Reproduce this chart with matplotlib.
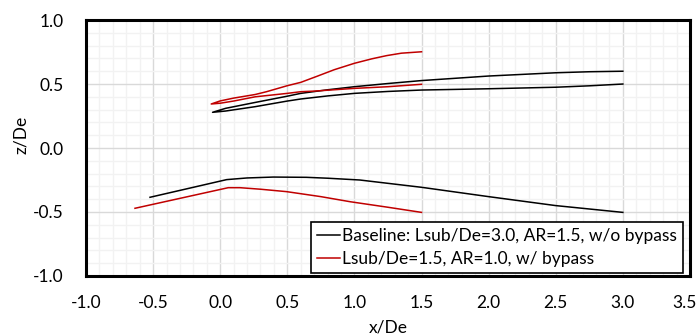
import matplotlib
matplotlib.use("Agg")
import matplotlib.pyplot as plt
from matplotlib.ticker import MultipleLocator
from matplotlib.transforms import ScaledTranslation

# baseline duct: upper wall loop (trailing edge lower -> leading edge -> trailing edge upper)
base_up_x = [3.0, 2.75, 2.5, 2.0, 1.5, 1.25, 1.0, 0.8, 0.6, 0.5, 0.26, 0.04, -0.057,
             0.04, 0.26, 0.5, 0.6, 0.8, 1.0, 1.25, 1.5, 2.0, 2.5, 2.75, 3.0]
base_up_z = [0.50, 0.486, 0.475, 0.463, 0.453, 0.442, 0.427, 0.407, 0.383, 0.367, 0.323, 0.289, 0.279,
             0.310, 0.356, 0.405, 0.427, 0.455, 0.479, 0.504, 0.527, 0.5625, 0.588, 0.596, 0.60]
# baseline duct: lower wall
base_lo_x = [-0.523, 0.048, 0.2, 0.395, 0.643, 0.8, 1.04, 1.5, 2.0, 2.5, 3.0]
base_lo_z = [-0.385, -0.247, -0.234, -0.227, -0.229, -0.236, -0.25, -0.307, -0.38, -0.45, -0.503]

# short duct with bypass
byp_up_x = [1.5, 1.25, 1.0, 0.707, 0.6, 0.5, 0.26, 0.1, 0.0, -0.067,
            0.0, 0.1, 0.26, 0.345, 0.5, 0.6, 0.72, 0.85, 1.0, 1.13, 1.24, 1.35, 1.5]
byp_up_z = [0.498, 0.479, 0.466, 0.445, 0.44, 0.427, 0.40, 0.367, 0.35, 0.344,
            0.368, 0.39, 0.418, 0.44, 0.487, 0.513, 0.56, 0.612, 0.662, 0.697, 0.722, 0.741, 0.752]
byp_lo_x = [-0.635, 0.06, 0.147, 0.3, 0.495, 0.75, 0.97, 1.25, 1.5]
byp_lo_z = [-0.471, -0.31, -0.31, -0.322, -0.341, -0.38, -0.42, -0.463, -0.503]

labels = ["Baseline: Lsub/De=3.0, AR=1.5, w/o bypass",
          "Lsub/De=1.5, AR=1.0, w/ bypass"]


def main():
    plt.rcParams['font.family'] = ['Lato', 'DejaVu Sans']
    fs = 12.5
    fig = plt.figure(figsize=(6.98, 3.34), dpi=100)
    ax = fig.add_axes([0.1232, 0.1737, 0.8653, 0.7663])

    ax.plot(base_up_x, base_up_z, color='black', lw=1.1, label=labels[0])
    ax.plot(base_lo_x, base_lo_z, color='black', lw=1.1)
    ax.plot(byp_up_x, byp_up_z, color='#C00000', lw=1.1, label=labels[1])
    ax.plot(byp_lo_x, byp_lo_z, color='#C00000', lw=1.1)

    ax.set_xlim(-1.0, 3.5)
    ax.set_ylim(-1.0, 1.0)
    ax.xaxis.set_major_locator(MultipleLocator(0.5))
    ax.yaxis.set_major_locator(MultipleLocator(0.5))
    ax.xaxis.set_minor_locator(MultipleLocator(0.1))
    ax.yaxis.set_minor_locator(MultipleLocator(0.1))
    ax.xaxis.set_major_formatter(lambda v, p: f"{v:.1f}")
    ax.yaxis.set_major_formatter(lambda v, p: f"{v:.1f}")
    ax.grid(which='major', color='#d9d9d9', lw=1.0)
    ax.grid(which='minor', color='#f2f2f2', lw=1.0)
    ax.set_axisbelow(True)
    ax.tick_params(which='both', length=0, labelsize=fs)
    ax.tick_params(axis='x', pad=14)
    ax.tick_params(axis='y', pad=16)
    for s in ax.spines.values():
        s.set_linewidth(2.2)
        s.set_color('black')

    # keep the 3.5 label inside the figure
    locs = list(ax.xaxis.get_majorticklocs())
    ticks = ax.xaxis.get_major_ticks(len(locs))
    for loc, tick in zip(locs, ticks):
        if abs(loc - 3.5) < 1e-9:
            lbl = tick.label1
            lbl.set_transform(lbl.get_transform() + ScaledTranslation(-4 / 72, 0, fig.dpi_scale_trans))

    ax.set_xlabel("x/De", fontsize=fs)
    ax.set_ylabel("z/De", fontsize=fs)
    ax.xaxis.set_label_coords(0.5, -0.17)
    ax.yaxis.set_label_coords(-0.095, 0.55)

    leg = ax.legend(loc='lower right', bbox_to_anchor=(0.988, 0.012), fontsize=fs,
                    frameon=True, fancybox=False, handlelength=1.3, handletextpad=0.12,
                    borderpad=0.35, labelspacing=0.4, borderaxespad=0.0)
    leg.get_frame().set_edgecolor('black')
    leg.get_frame().set_linewidth(1.2)
    leg.get_frame().set_alpha(1.0)

    fig.savefig("out.png", dpi=100)


if __name__ == '__main__':
    main()
